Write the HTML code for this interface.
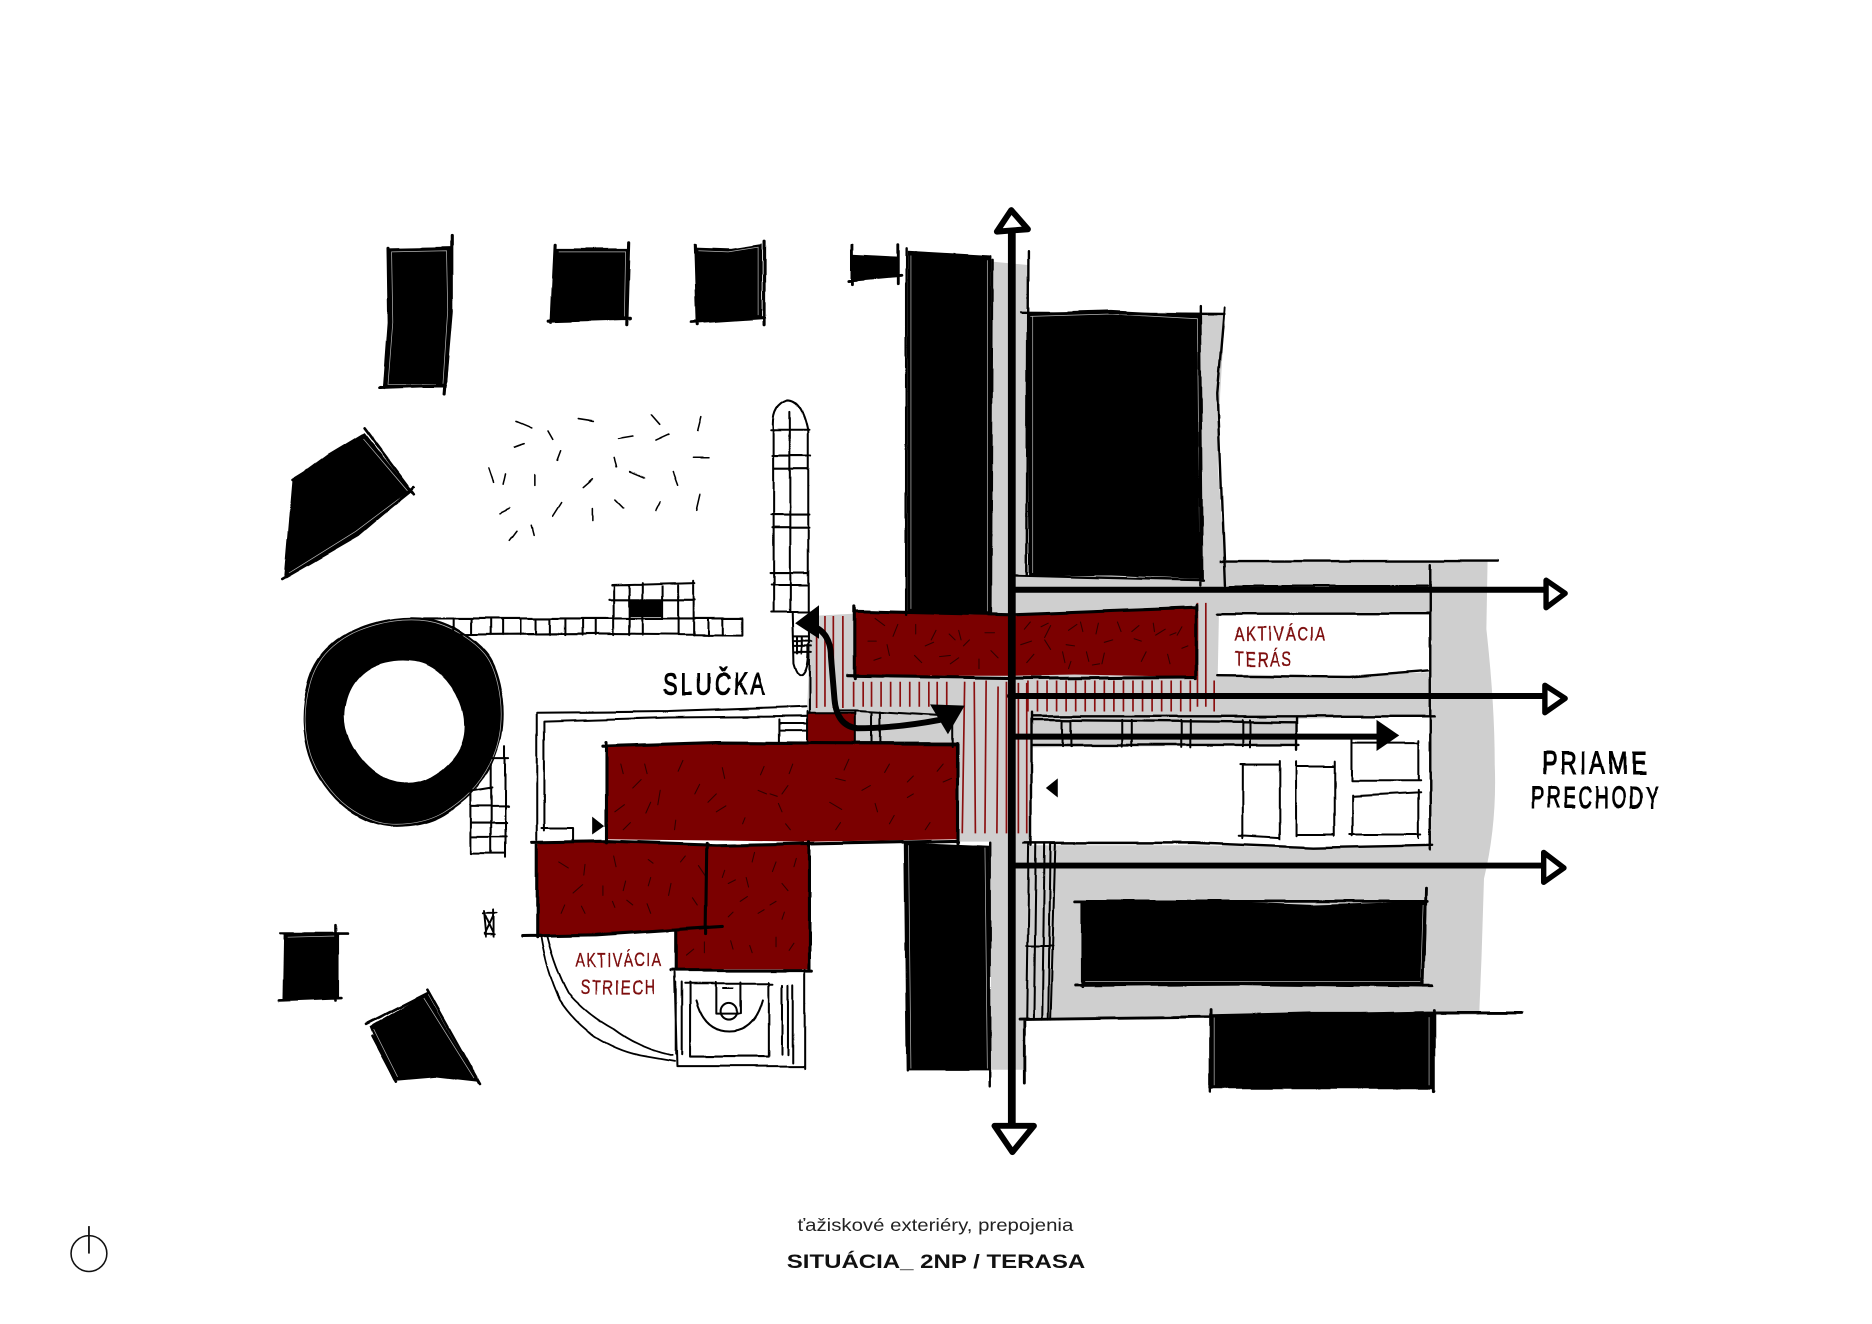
<!DOCTYPE html>
<html lang="sk">
<head>
<meta charset="utf-8">
<title>Situácia 2NP / Terasa</title>
<style>
html,body{margin:0;padding:0;background:#fff;width:1872px;height:1324px;overflow:hidden}
svg{display:block}
.l{fill:none;stroke:#000;stroke-linecap:round;stroke-linejoin:round}
.hand{font-family:"Liberation Sans",sans-serif;fill:#000;stroke:#000;stroke-width:.9;letter-spacing:.14em}
.red{font-family:"Liberation Sans",sans-serif;fill:#7c0a0a;stroke:#7c0a0a;stroke-width:.3;letter-spacing:.1em}
</style>
</head>
<body>
<svg xmlns="http://www.w3.org/2000/svg" width="1872" height="1324" viewBox="0 0 1568 1109">
<defs>
<filter id="w" x="0" y="0" width="100%" height="100%" filterUnits="userSpaceOnUse" primitiveUnits="userSpaceOnUse">
<feTurbulence type="fractalNoise" baseFrequency="0.025" numOctaves="2" seed="4"/>
<feDisplacementMap in="SourceGraphic" scale="3.5" xChannelSelector="R" yChannelSelector="G"/>
</filter>
</defs>
<rect width="1568" height="1109" fill="#fff"/>

<!-- grey ground -->
<path fill="#cfcfcf" d="M830,219 L861,222 L860,262 L1026,262 L1022,330 L1020,390 L1026,470 L1246,470 L1245,527 Q1252,590 1252,640 Q1254,690 1243,736 L1241,800 L1239,850 L1013,852 L858,854 L858,896 L830,896 Z"/>
<path fill="#cfcfcf" d="M676,597 L679,516 L716,514 L716,566 L848,566 L848,705 L800,705 L800,622 L716,622 L676,622 Z"/>

<!-- white courts -->
<path fill="#fff" d="M1021,514 L1198,514 L1199,563 L1130,566 L1020,565 Z"/>
<path fill="#fff" d="M1086,602 L1198,600 L1198,708 L1100,710 L1000,708 L864,708 L864,626 L1086,624 Z"/>

<!-- red blocks -->
<g fill="#7b0000">
<path d="M716,512 L780,514 L848,515 L930,511 L1002,509 L1002,567 L900,565 L848,566 L716,566 Z"/>
<path d="M508,625 L600,622 L680,622 L802,622 L802,703 L680,705 L600,704 L508,703 Z"/>
<path d="M450,706 L510,705 L595,708 L678,706 L678,812 L566,812 L566,779 L500,783 L450,785 Z"/>
<path d="M676,597 L716,597 L716,622 L676,622 Z"/>
</g>

<!-- black masses -->
<g filter="url(#w)">
<path d="M325,208 L377,207 L378,260 L374,325 L322,325 L326,270 Z"/>
<path d="M465,208 L527,208 L526,268 L462,268 Z"/>
<path d="M582,207 L612,208 L638,204 L638,267 L585,269 Z"/>
<path d="M714,213 L752,215 L752,232 L714,235 Z"/>
<path d="M760,210 L830,214 L830,515 L760,512 Z"/>
<path d="M758,705 L828,708 L830,897 L760,897 Z"/>
<path d="M860,262 L930,260 L1006,264 L1008,485 L930,482 L862,482 Z"/>
<path d="M906,755 L1000,754 L1100,758 L1195,755 L1193,825 L1050,825 L906,825 Z"/>
<path d="M1014,850 L1100,848 L1200,848 L1200,912 L1014,912 Z"/>
<path d="M305,362 L345,412 L300,448 L238,484 L245,402 L275,380 Z"/>
<path d="M238,782 L284,781 L284,836 L237,838 Z"/>
<path d="M358,832 L400,906 L365,902 L330,905 L318,880 L310,860 Z"/>
<path fill-rule="evenodd" d="M358.5,518 Q372,520 386,528.5 Q400,537 407.5,546 Q415,555 419,572.5 Q423,590 421.5,607.5 Q420,625 412.5,640 Q405,655 395,665 Q385,675 372.5,682.5 Q360,690 342.5,692 Q325,694 312.5,689.5 Q300,685 290,677.5 Q280,670 271,657.5 Q262,645 258,632.5 Q254,620 253.5,605 Q253,590 257.5,572.5 Q262,555 273.5,543.5 Q285,532 300,526 Q315,520 330,518 Q345,516 358.5,518Z M347.5,554 Q360,556 370,565.5 Q380,575 385,587.5 Q390,600 389,612.5 Q388,625 380,635 Q372,645 361,651 Q350,657 337.5,656 Q325,655 315,647.5 Q305,640 298.5,630 Q292,620 289.5,610 Q287,600 290,587.5 Q293,575 301.5,566.5 Q310,558 322.5,555 Q335,552 347.5,554Z"/>
</g>

<!-- pale inset lines on black masses -->
<path fill="none" stroke="#b5b5b5" stroke-width=".6" d="M328,211L374,210L375,260L371,322L325,322L329,270ZM468,211L524,211L523,265M585,210L610,211L635,207L635,264M763,214L763,510M827,218L827,512M761,708L763,895M825,710L827,895M863,265L930,263L1003,267L1005,482M865,265L865,480M909,822L1050,822L1190,822L1192,758M1017,909L1017,852M1197,852L1197,909M303,366L342,412L298,445L242,480M241,785L281,784L281,833M355,836L397,903M313,862L333,902"/>
<path fill="none" stroke="#b5b5b5" stroke-width=".6" transform="translate(338 605) scale(.975) translate(-338 -605)" d="M358.5,518 Q372,520 386,528.5 Q400,537 407.5,546 Q415,555 419,572.5 Q423,590 421.5,607.5 Q420,625 412.5,640 Q405,655 395,665 Q385,675 372.5,682.5 Q360,690 342.5,692 Q325,694 312.5,689.5 Q300,685 290,677.5 Q280,670 271,657.5 Q262,645 258,632.5 Q254,620 253.5,605 Q253,590 257.5,572.5 Q262,555 273.5,543.5 Q285,532 300,526 Q315,520 330,518 Q345,516 358.5,518Z"/>

<!-- red hatching -->
<path fill="none" stroke="#8a0f0f" stroke-width="1.4" d="M684,516V593M691,516V592M698,516V593M706,516V593
M715,571V592M723,571V592M730,571V592M738,571V592M746,571V592M754,571V592M762,571V592M770,571V592M778,571V592M785,571V592M793,571V592
M808,571L806,698M816,571L817,698M826,570L825,698M836,575L835,698M843,571V698M853,572V698M860,572V698
M861,570V596M869,570V596M877,570V596M885,570V596M893,570V596M901,570V596M909,570V596M917,570V596M925,570V596M933,570V596M941,570V596M949,570V596M957,570V596M965,570V596M973,570V596M981,570V596M989,570V596M997,570V596M1003,505V592M1010,505V592M1017,570V596"/>

<!-- dark dashes on red -->
<path fill="none" stroke="#300000" stroke-width=".9" stroke-linecap="round" d="
M733,518l8,6M752,523l-4,10M767,523v8M784,528l-4,8M795,531l5,5M803,528l2,8M825,530h8M727,537h7M743,540l2,9M775,541l7,-3M812,536l-5,5M830,545l6,6M732,553l6,-2M766,549l6,6M787,550l9,-1M796,556l7,-5M820,552v8M858,527l5,-6M872,525l6,-3M880,524l-5,10M895,528l7,-5M905,521l2,8M920,522l-2,9M936,521l3,8M948,529l6,-5M966,522l1,7M968,532l8,-5M990,525l-4,7M855,540l9,-3M875,536l5,8M893,540l7,1M925,538l7,-2M950,535l6,2M985,530l-5,2M866,548l-6,7M890,546l2,9M910,546l2,8M925,547l-2,9M960,546l-4,8M978,548l2,8M990,543l5,-2M895,560l2,-6M915,557l6,-1
M520,640l2,8M540,640l2,8M568,646l4,-9M605,643l2,9M640,642l-3,7M664,640l-3,8M707,645l4,-9M745,640l-4,7M765,650l-5,5M790,640l-5,6M530,660l7,-7M553,662l-2,12M582,665l4,-8M635,662l7,3M655,665l5,-7M700,652l8,2M722,662l7,-4M790,655l7,-3M515,680l8,-6M545,672l-4,9M593,672l7,-7M600,680l8,-5M645,665l6,2M655,680l-3,-7M695,672l10,6M735,680l-2,-7M760,668l5,-3M522,695l6,-6M565,695l1,-8M622,690l2,-5M662,695l-4,-5M700,695l4,-6M745,690l4,-7M775,695l4,-6
M468,722l8,5M490,724l-1,9M514,717l2,9M543,720l4,3M570,722l4,-5M585,725l6,9M605,735l2,-6M630,722l2,-8M650,722l-3,8M665,726l2,-7M480,748l8,-7M505,742v8M524,738l-2,8M545,735l-2,7M562,740l-2,10M610,740l6,-3M625,735l2,8M655,740l5,6M515,760l-2,-5M530,758l-5,-4M545,765l-3,-8M580,752l4,6M620,755l6,-4M650,755l-5,3M470,765l3,-7M490,765l-3,-6M610,768l4,-4M635,765l5,-3M655,770l2,-6M575,800l6,-5M590,798v-9M614,795l-2,-7M630,798l-2,-6M650,793v-8M665,790l-4,6"/>

<!-- linework -->
<g class="l" filter="url(#w)" stroke-width="1.7">
<path stroke-width="2.6" d="M318,325L373,323M378,198L378,260L372,330M325,208L326,270L322,325"/>
<path stroke-width="2.6" d="M460,269L528,267M465,205L462,270M527,203L525,272"/>
<path stroke-width="2.6" d="M579,270L640,266M582,205L584,272M640,202V272"/>
<path stroke-width="2.4" d="M711,235L755,231M714,205V238M752,205V238"/>
<path stroke-width="2" d="M759,208V515M831,218L830,515M758,705L760,897M829,705V910"/>
<path stroke-width="2" d="M855,262L1026,263M1005,256V490M1026,258L1020,330L1026,490M861,210L860,482M850,482L1008,486"/>
<path stroke-width="2.2" d="M305,358L347,414M236,485L300,448L347,408M245,402L305,365"/>
<path stroke-width="2.2" d="M234,838L286,836M235,782H291M281,775V838M307,858L358,832M358,829L402,908M312,868L332,906"/>
<path stroke-width="2" d="M1022,470H1255M1030,491H1196M1020,514H1198M1020,566L1130,567L1196,562M1198,473V712M1086,605L864,603M864,600H1202M864,624H1088M1086,600V628M864,597V708M858,706H1000L1100,710L1200,708"/>
<path d="M1039,640H1072M1072,637V703M1041,640V702M1038,700L1072,702M1086,642H1118M1086,638V700M1118,638V700M1086,699H1118M1132,622H1188M1132,619V654M1188,620V654M1132,654H1190M1133,667L1190,664M1133,666V700M1188,662V702M1131,699H1190"/>
<path d="M890,603V625M897,603V625M940,603V625M948,603V625M989,603V626M997,603V626M1041,603V625M1047,603V626"/>
<path d="M862,706L860,854M868,706L866,854M875,706L873,854M880,706L878,854M884,706L880,854M860,792H882"/>
<path stroke-width="2.4" d="M901,755H1195M1194,744L1192,826M907,755V826M901,825L1040,824L1200,826M854,854L1014,852L1200,848H1275M1014,846V914M1201,846V914M858,854V908"/>
<path stroke-width="2.6" d="M716,508V568M710,566L850,568L1002,567M716,512L848,515L1002,509M1002,507V568"/>
<path stroke-width="2.6" d="M505,625L600,622L802,623M508,622V706M802,622V706M446,706L510,705L600,708L802,704M592,706L591,782M450,706V785M437,784L500,783L605,776M566,779V812M678,705V812M562,813H680"/>
<path d="M450,597L560,596L675,592M456,604L560,601L675,600M450,597V704M456,604V696M454,694H480V705M652,603V622M653,606H675M653,612H675"/>
<path d="M676,596V621M716,596V622M716,595L800,600M716,622L800,622M798,600V625M676,597L716,597"/>
<path d="M678,516V597M700,595H716M730,596V622M737,596V622"/>
<path stroke-width="1.5" d="M453,784Q458,815 469,838Q480,855 498,868Q520,882 542,885L565,889M458,784Q465,812 476,832Q492,850 514,862Q535,878 563,884"/>
<path d="M565,815L567,893L674,893M674,812V895M566,823V883M571,823V883M578,823V885H644V823M574,824H647M600,823V849M621,823V849H600M655,825V883M660,825V883M664,825V890M583,838Q590,864 611,864Q632,864 639,838"/>
<circle cx="611" cy="847" r="7"/>
<path d="M606,828H614"/>
<path d="M394,635V715M411,640V715M423,625V718M394,663L412,660M411,635H426M394,675H426M394,689H424M394,701H424M394,715H423"/>
<path stroke-width="1.6" d="M405,763L407,785M413,762V785M404,765H416M406,783H414M406,767L413,782M413,767L406,782"/>
<path d="M648,360V513M662,345V513M677,360V513M648,360Q646,340 660,335Q672,335 677,360M646,360H678M647,382H679M648,393H676M646,431H678M647,442H678M645,480H677M646,490H676M646,513H678M664,513L665,555Q668,566 672,565Q678,560 677,540M665,533H678M665,537H680M665,541H680M665,546H680M668,533V547M672,533V547"/>
<path d="M355,518H621M385,532L500,531L621,532M621,518V532M380,518V532M395,518V532M411,518V532M421,518V532M436,518V532M449,518V532M461,518V532M474,518V532M488,518V532M499,518V532M514,490V532M527,490V532M538,488V532M555,490V518M568,490V532M581,486V532M593,518V532M605,518V532M512,490L582,488M510,502H582"/>
<path stroke-width="1.3" d="M433,353l12,5M484,351l13,2M459,361l4,7M546,347l7,8M587,349l-3,12M518,368l12,-2M549,369l11,-5M431,375l8,-3M470,378l-3,8M580,383h13M514,384l2,7M527,395l12,5M409,392l4,12M423,397l-2,9M448,398v9M497,401l-8,7M564,395l4,11M587,414l-3,13M515,418l7,7M553,420l-4,8M470,421l-7,11M497,426v10M418,430l8,-4M445,440l2,8M433,445l-6,8"/>
</g>
<rect x="527" y="503" width="27" height="14"/>
<path d="M496,684L506,692L496,699Z"/>
<path d="M886,652L876,660L886,668Z"/>

<!-- arrows -->
<g class="l">
<path stroke-width="6.5" stroke-linecap="butt" d="M847.5,188V958"/>
<path stroke-width="5" d="M848,494H1295M846,583H1294M848,725H1293M848,617H1156"/>
<path stroke-width="5" fill="#fff" d="M847,176L861,192L835,194Z"/>
<path stroke-width="5" fill="#fff" d="M833,943H866L848,965Z"/>
<path stroke-width="4.5" fill="#fff" d="M1295,486L1311,497L1295,509Z"/>
<path stroke-width="4.5" fill="#fff" d="M1294,574L1311,585L1294,597Z"/>
<path stroke-width="4.5" fill="#fff" d="M1293,714L1310,727L1293,739Z"/>
<path stroke-width="5" d="M680,524Q696,530 696,550L699,586Q701,608 718,610Q750,610 787,603"/>
</g>
<path d="M1153,603L1172,616L1153,629Z"/>
<path d="M666,522L686,507L686,535Z"/>
<path d="M779,590L808,591L794,615Z"/>

<!-- labels -->
<g filter="url(#w)">
<text class="hand" x="556" y="582" font-size="26" textLength="87" lengthAdjust="spacingAndGlyphs">SLUČKA</text>
<text class="hand" x="1291" y="648" font-size="26" textLength="91" lengthAdjust="spacingAndGlyphs">PRIAME</text>
<text class="hand" x="1282" y="677" font-size="26" textLength="109" lengthAdjust="spacingAndGlyphs">PRECHODY</text>
<text class="red" x="1034" y="537" font-size="17" textLength="77" lengthAdjust="spacingAndGlyphs">AKTIVÁCIA</text>
<text class="red" x="1034" y="558" font-size="17" textLength="49" lengthAdjust="spacingAndGlyphs">TERÁS</text>
<text class="red" x="482" y="810" font-size="17" textLength="73" lengthAdjust="spacingAndGlyphs">AKTIVÁCIA</text>
<text class="red" x="486" y="833" font-size="17" textLength="64" lengthAdjust="spacingAndGlyphs">STRIECH</text>
</g>

<!-- footer -->
<text x="668" y="1031" font-family="Liberation Sans, sans-serif" font-size="14.5" fill="#222" textLength="231" lengthAdjust="spacingAndGlyphs">ťažiskové exteriéry, prepojenia</text>
<text x="659" y="1062" font-family="Liberation Sans, sans-serif" font-size="16" font-weight="bold" fill="#111" textLength="250" lengthAdjust="spacingAndGlyphs">SITUÁCIA_ 2NP / TERASA</text>
<circle cx="74.5" cy="1050" r="15" fill="none" stroke="#111" stroke-width="1.3"/>
<path d="M74.5,1027V1050" stroke="#111" stroke-width="1.5" fill="none"/>
</svg>
</body>
</html>
